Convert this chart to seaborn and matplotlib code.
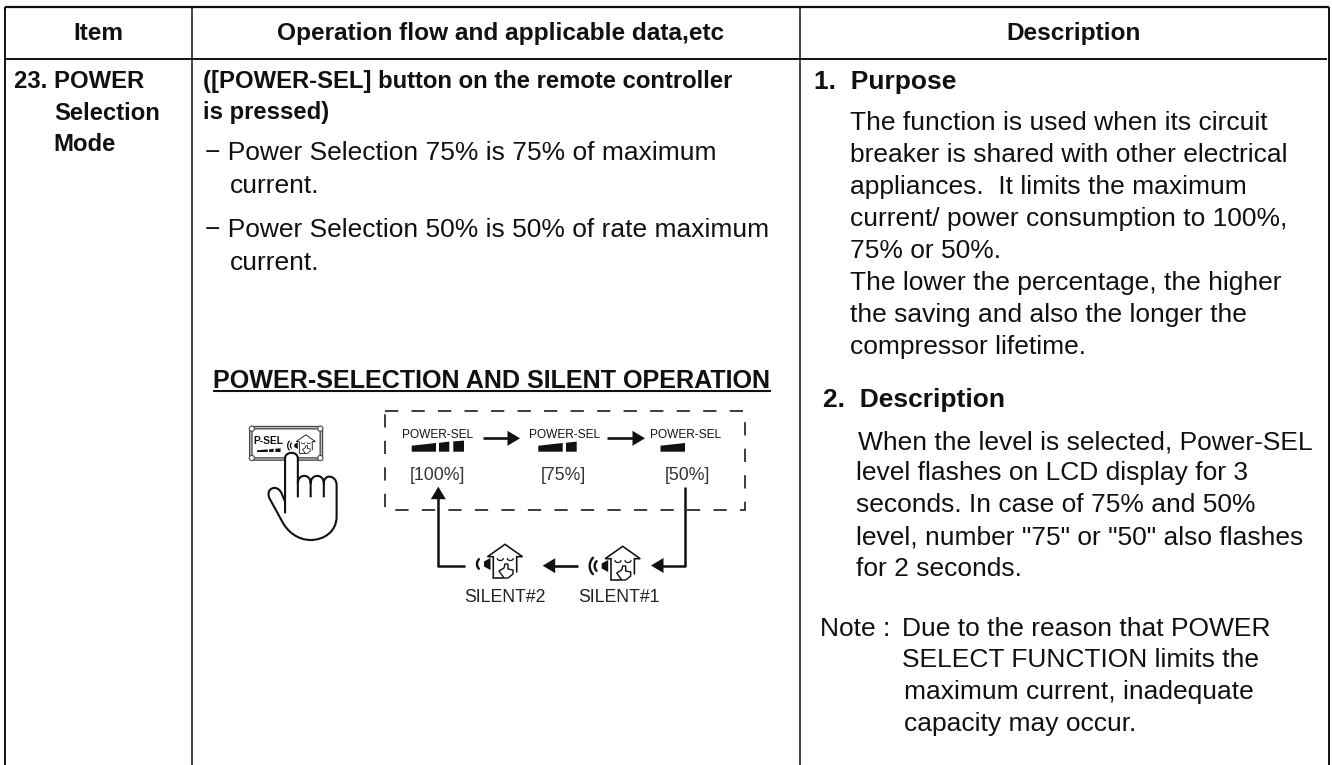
import numpy as np
import pandas as pd
import matplotlib
matplotlib.use("Agg")
import matplotlib.pyplot as plt
from matplotlib.patches import Polygon, PathPatch, FancyBboxPatch, Circle
from matplotlib.path import Path
import seaborn as sns

sns.set_theme(style="white")
plt.rcParams['font.family'] = ['Liberation Sans', 'DejaVu Sans']

# text of the table
headers = ["Item", "Operation flow and applicable data,etc", "Description"]
item_lines = ["23. POWER", "Selection", "Mode"]
flow_lines = ["([POWER-SEL] button on the remote controller", "is pressed)"]
flow_body = ["\u2212 Power Selection 75% is 75% of maximum", "current.",
             "\u2212 Power Selection 50% is 50% of rate maximum", "current."]
diagram_title = "POWER-SELECTION AND SILENT OPERATION"
purpose_head = "1.  Purpose"
purpose_lines = ["The function is used when its circuit",
                 "breaker is shared with other electrical",
                 "appliances.  It limits the maximum",
                 "current/ power consumption to 100%,",
                 "75% or 50%.",
                 "The lower the percentage, the higher",
                 "the saving and also the longer the",
                 "compressor lifetime."]
descr_head = "2.  Description"
descr_lines = ["When the level is selected, Power-SEL",
               "level flashes on LCD display for 3",
               "seconds. In case of 75% and 50%",
               "level, number \"75\" or \"50\" also flashes",
               "for 2 seconds."]
note_prefix = "Note :"
note_lines = ["Due to the reason that POWER",
              "SELECT FUNCTION limits the",
              "maximum current, inadequate",
              "capacity may occur."]
sel_label = "POWER-SEL"
percent_labels = ["[100%]", "[75%]", "[50%]"]
silent_labels = ["SILENT#2", "SILENT#1"]

INK = "#111111"
BODY = 19

fig = plt.figure(figsize=(13.32, 7.65), dpi=100)
ax = fig.add_axes([0, 0, 1, 1])
ax.set_xlim(0, 1332)
ax.set_ylim(765, 0)
ax.axis("off")


def rule(xs, ys, lw=1.2, color=INK, **kw):
    df = pd.DataFrame({"x": xs, "y": ys})
    sns.lineplot(data=df, x="x", y="y", estimator=None, sort=False, ax=ax,
                 color=color, lw=lw, solid_capstyle="butt", **kw)


def write(x, y, s, bold=False, size=BODY, ha="left", color=INK):
    # y is the baseline of the line
    ax.text(x, y, s, fontsize=size, ha=ha, va="baseline", color=color,
            fontweight="bold" if bold else "normal")


def zx(v):
    return 220 + np.asarray(v) / 2.89


def zy(v):
    return 390 + np.asarray(v) / 3


def head(x, y, dx, dy, length=12.5, half=7.5):
    # filled arrow head with its tip at x,y pointing along dx,dy
    px, py = -dy, dx
    pts = [(x, y), (x - dx * length + px * half, y - dy * length + py * half),
           (x - dx * length - px * half, y - dy * length - py * half)]
    ax.add_patch(Polygon(pts, closed=True, fc=INK, ec="none", zorder=3))


def wedge(x0, x1, ybot, t0, t1):
    ax.add_patch(Polygon([(x0, ybot), (x0, t0), (x1, t1), (x1, ybot)], closed=True, fc=INK, ec="none"))


def house(cx, cy, s=1.0, speaker=2):
    # roof and walls
    xs = np.array([-11.7, -11.7, -17.5, 0, 17.5, 11.7, 11.7])
    ys = np.array([16.7, -4.3, -4.3, -16.7, -4.3, -4.3, 11])
    ax.plot(cx + xs * s, cy + ys * s, color=INK, lw=1.15 * s, solid_joinstyle="miter")
    ax.plot(cx + np.array([-11.7, -2]) * s, cy + np.array([16.7, 16.7]) * s, color=INK, lw=1.15 * s)
    # closed eyes
    for ex in (-4.7, 5.3):
        t = np.linspace(0, np.pi, 12)
        ax.plot(cx + (ex + 3 * np.cos(t)) * s, cy + (-2.5 + 2 * np.sin(t)) * s, color=INK, lw=0.9 * s)
    # finger on the lips
    hx = np.array([-6, -1, 0, 3, 3, 8, 8, 3, -1, -6])
    hy = np.array([10, 7, 3, 3, 8, 9, 13, 17, 17, 10])
    ax.add_patch(Polygon(np.c_[cx + hx * s, cy + hy * s], closed=True, fc="white", ec=INK, lw=1.0 * s, zorder=3))
    # speaker
    ax.add_patch(Polygon([(cx - 14.5 * s, cy - 3 * s), (cx - 21 * s, cy + 0.5 * s), (cx - 21 * s, cy + 5.5 * s),
                          (cx - 14.5 * s, cy + 9 * s)], closed=True, fc=INK, ec="none"))
    for i in range(speaker):
        t = np.linspace(2.4, 3.9, 12)
        r = (7 + 5 * i) * s
        ax.plot(cx - 21 * s + r * np.cos(t), cy + 3 * s + r * np.sin(t), color=INK, lw=1.7 * s)


# table frame, open at the bottom
rule([5, 5], [765, 7], lw=1.4)
rule([5, 1329], [7, 7], lw=1.6)
rule([1329, 1329], [7, 765], lw=1.4)
rule([5, 1327], [59, 59], lw=1.4)
rule([192, 192], [7, 765], lw=1.1)
rule([800, 800], [7, 765], lw=1.1)

# header row
for cx, s in zip([98, 500.5, 1074], headers):
    write(cx, 40, s, bold=True, size=17.6, ha="center")

# item column
for (x, y), s in zip([(14, 88), (54, 119.5), (53, 151)], item_lines):
    write(x, y, s, bold=True, size=17.2)

# flow column
for y, s in zip([88, 118.5], flow_lines):
    write(203, y, s, bold=True, size=17.2)
for (x, y), s in zip([(205, 160), (230, 193), (205, 237), (230, 270)], flow_body):
    write(x, y, s)
write(213, 388, diagram_title, bold=True, size=18.1)
rule([213, 771], [391, 391], lw=1.5)

# description column
write(814, 89, purpose_head, bold=True)
for y, s in zip([130, 162, 194, 226, 258, 290, 322, 354], purpose_lines):
    write(850, y, s)
write(823, 407, descr_head, bold=True)
for (x, y), s in zip([(858, 449), (856, 480), (856, 512), (856, 544), (856, 576)], descr_lines):
    write(x, y, s)
write(820, 636, note_prefix)
for (x, y), s in zip([(902, 636), (902, 667), (904, 699), (904, 731)], note_lines):
    write(x, y, s)

# dashed box
ax.add_patch(plt.Rectangle((384.5, 411), 360, 98.5, fc="none", ec=INK, lw=1.15, ls=(0, (8.3, 8.3))))

# power level indicators
for cx, s in zip([438, 565, 686], [sel_label] * 3):
    write(cx, 437.7, s, size=8.6, ha="center")
for x0, x1, t0, t1 in [(411.7, 436, 445.7, 443), (439, 449.3, 442.8, 441.6), (453.3, 464, 441.4, 440.6),
                       (538.3, 562.7, 445.7, 443), (566, 576.7, 442.8, 441.6), (660.5, 685, 445.7, 443)]:
    wedge(x0, x1, 451.7, t0, t1)
for cx, s in zip([437.3, 563, 687], percent_labels):
    write(cx, 480, s, size=12.8, ha="center", color="#333333")

# arrows between the levels
rule([483, 510], [438.3, 438.3], lw=1.9)
head(520, 438.3, 1, 0)
rule([606.7, 634], [438.3, 438.3], lw=1.9)
head(645, 438.3, 1, 0)
rule([684.5, 684.5, 660], [487, 565.5, 565.5], lw=1.8)
head(651, 565.5, -1, 0)
rule([578.3, 552], [565.7, 565.7], lw=1.9)
head(542.7, 565.7, -1, 0)
rule([465, 438.3, 438.3], [566, 566, 498], lw=1.8)
head(438.3, 486.7, 0, -1)

# silent icons
house(505, 561, 1.0, speaker=1)
house(622.7, 563, 1.0, speaker=2)
for cx, s in zip([505, 619], silent_labels):
    write(cx, 602.5, s, size=12.7, ha="center", color="#222222")

# remote button
bx, by = zx(92), zy(116)
bw, bh = zx(290) - bx, zy(204) - by
ax.add_patch(FancyBboxPatch((bx, by), bw, bh, boxstyle="round,pad=1,rounding_size=3",
                            fc="white", ec="#444444", lw=2.6))
ax.add_patch(FancyBboxPatch((bx, by), bw, bh, boxstyle="round,pad=1,rounding_size=3",
                            fc="none", ec="#cfcfcf", lw=0.8))
for cx, cy in [(bx, by), (bx + bw, by), (bx, by + bh), (bx + bw, by + bh)]:
    ax.add_patch(Circle((cx, cy), 2.6, fc="white", ec="#555555", lw=0.9, zorder=2.5))
ax.text(zx(140), zy(152), "P-SEL", fontsize=7.4, ha="center", va="center", color=INK, fontweight="bold")
for a, b, t0, t1 in [(107, 138, 181, 178), (142, 155, 178, 176), (160, 175, 176, 175)]:
    wedge(zx(a), zx(b), zy(186), zy(t0), zy(t1))
house(zx(248), zy(162), 0.55, speaker=2)

# pressing hand
M, L, C = Path.MOVETO, Path.LINETO, Path.CURVE4
tip = [((188, 250), M), ((188, 205), L), ((188, 183), C), ((225, 183), C), ((225, 205), C),
       ((225, 250), L), ((188, 250), Path.CLOSEPOLY)]
ax.add_patch(PathPatch(Path([(zx(a), zy(b)) for (a, b), _ in tip], [c for _, c in tip]),
                       fc="white", ec="none", zorder=3.5))
hand = [((188, 370), M), ((188, 205), L), ((188, 183), C), ((225, 183), C), ((225, 205), C),
        ((225, 322), L),
        ((225, 280), M), ((225, 250), C), ((262, 250), C), ((262, 280), C), ((262, 322), L),
        ((262, 280), M), ((262, 250), C), ((300, 250), C), ((300, 280), C), ((300, 322), L),
        ((300, 280), M), ((300, 250), C), ((337, 255), C), ((337, 285), C),
        ((337, 380), L), ((337, 425), C), ((300, 450), C), ((262, 450), C),
        ((225, 450), C), ((195, 425), C), ((180, 395), C),
        ((143, 325), L), ((130, 295), C), ((165, 280), C), ((178, 310), C), ((188, 335), L)]
verts = [(zx(a), zy(b)) for (a, b), _ in hand]
codes = [c for _, c in hand]
ax.add_patch(PathPatch(Path(verts, codes), fc="none", ec=INK, lw=1.5, zorder=4))

fig.savefig("out.png", dpi=100)
